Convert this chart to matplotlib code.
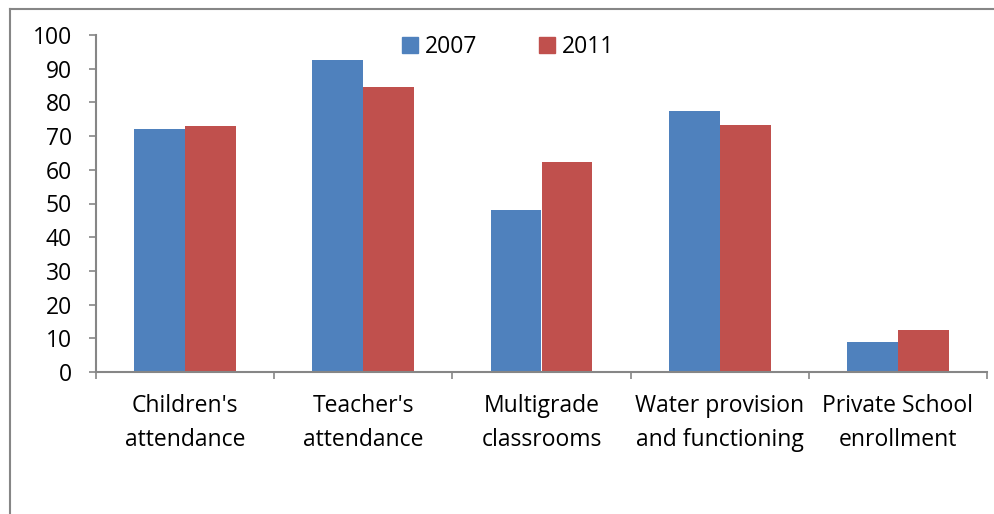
import matplotlib
matplotlib.use("Agg")
import matplotlib.pyplot as plt
from matplotlib.patches import Patch
from matplotlib.lines import Line2D
import numpy as np

categories = ["Children's\nattendance", "Teacher's\nattendance", "Multigrade\nclassrooms",
              "Water provision\nand functioning", "Private School\nenrollment"]
years = ["2007", "2011"]
values_2007 = [72.0, 92.6, 48.0, 77.4, 8.9]
values_2011 = [73.0, 84.5, 62.4, 73.3, 12.4]
colors = ["#4F81BD", "#C0504D"]
yticks = [0, 10, 20, 30, 40, 50, 60, 70, 80, 90, 100]

plt.rcParams['font.family'] = ['Open Sans', 'DejaVu Sans']
FS = 16.5

W, H = 995, 514
fig = plt.figure(figsize=(W / 100, H / 100), dpi=100)
ax = fig.add_axes([96 / W, 1 - 372 / H, (987 - 96) / W, (372 - 35) / H])

x = np.arange(len(categories))
bw = 1 / 3.5
ax.bar(x - bw / 2, values_2007, width=bw, color=colors[0], label=years[0])
ax.bar(x + bw / 2, values_2011, width=bw, color=colors[1], label=years[1])

ax.set_xlim(-0.5, len(categories) - 0.5)
ax.set_ylim(0, 100)
ax.set_yticks(yticks)
ax.set_yticklabels([str(v) for v in yticks])

grey = "#868686"
for s in ["top", "right"]:
    ax.spines[s].set_visible(False)
for s in ["left", "bottom"]:
    ax.spines[s].set_color(grey)
    ax.spines[s].set_linewidth(1.5)

ax.tick_params(axis='y', direction='out', length=5, width=1.2, color=grey,
               labelsize=FS, pad=12.5)
# x ticks at group boundaries
ax.set_xticks(np.arange(-0.5, len(categories), 1.0))
ax.set_xticklabels([])
ax.tick_params(axis='x', direction='out', length=5, width=1.2, color=grey)
for i, c in enumerate(categories):
    ax.text(i, -6.6, c, ha='center', va='top', fontsize=FS, linespacing=1.55,
            transform=ax.transData, clip_on=False)

handles = [Patch(color=colors[0]), Patch(color=colors[1])]
fig.legend(handles, years, loc='center', bbox_to_anchor=(508 / W, 1 - 47 / H),
           ncol=2, frameon=False, fontsize=FS, handlelength=0.7, handleheight=0.7,
           handletextpad=0.3, columnspacing=2.7)

# outer chart border
fig.add_artist(Line2D([10 / W, 1.0], [1 - 9 / H, 1 - 9 / H], transform=fig.transFigure,
                      color=grey, linewidth=1.5))
fig.add_artist(Line2D([10 / W, 10 / W], [0, 1 - 9 / H], transform=fig.transFigure,
                      color=grey, linewidth=1.5))

fig.savefig("out.png", dpi=100)
